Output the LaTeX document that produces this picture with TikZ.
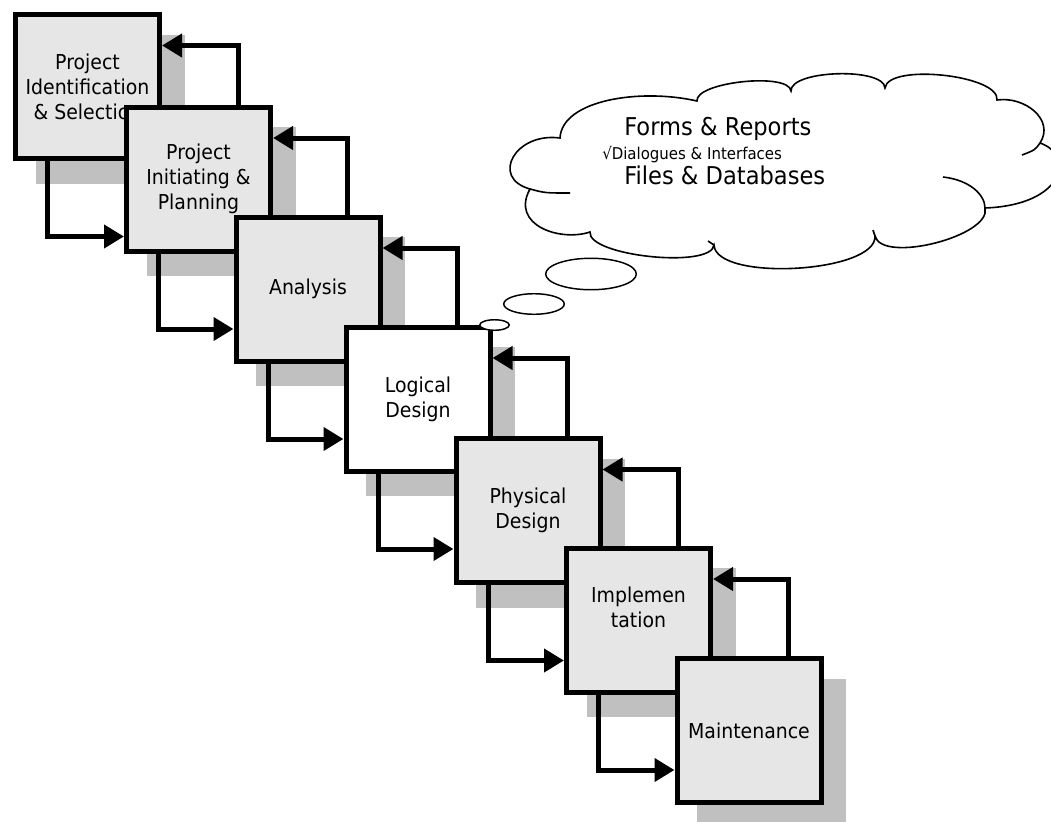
\documentclass[tikz,border=0pt]{standalone}
\usepackage{fontspec}
\setmainfont{DejaVu Sans}[FakeStretch=0.92]
\usetikzlibrary{calc,arrows.meta,shadows,shapes.geometric}
\definecolor{boxgray}{RGB}{230,230,230}
\definecolor{shadegray}{RGB}{192,192,192}
\tikzset{
  phase/.style={draw,line width=3.75pt,fill=boxgray,minimum width=108pt,minimum height=108pt,inner sep=0pt,align=center,
    font=\fontsize{15.4}{18.75}\selectfont,
    drop shadow={shadow xshift=16.5pt,shadow yshift=-16.5pt,shadow scale=1.035,fill=shadegray,opacity=1}},
  link/.style={->,line width=3.75pt},
  cloudline/.style={line width=1.2pt},
  puff/.style={ellipse,draw,line width=1.1pt,fill=white,inner sep=0pt},
  note/.style={anchor=base west,inner sep=0pt,font=\fontsize{18.4}{22}\selectfont}
}
\begin{document}
\begin{tikzpicture}[x=0.75pt,y=-0.75pt,>={Triangle[length=15pt,width=17pt]}]
                \useasboundingbox (0,0) rectangle (1051,822);
                \node[phase] (p1) at (87.5,86.5) {Project\\Identification\\\& Selection};
                \node[phase] (p2) at (198.5,179) {Project\\Initiating \&\\Planning};
                \node[phase] (p3) at (308,289) {Analysis};
                \node[phase,fill=white] (p4) at (418,399) {Logical\\Design};
                \node[phase] (p5) at (528,510.5) {Physical\\Design};
                \node[phase] (p6) at (638.5,620) {Implemen\\tation\\\mbox{}};
                \node[phase] (p7) at (749,730.5) {Maintenance};
                \foreach \i in {1,...,6}
                {
                \pgfmathtruncatemacro{\j}{\i+1}
                \draw[link] ([xshift=-26pt]p\j.north east) |- ($(p\i.north east)+(0,33.5)$);
                \draw[link] ([xshift=26pt]p\i.south west) |- ($(p\i.south -| p\j.west)+(0,75.5)$);
                }
                \draw[cloudline,fill=white] (560,138) .. controls (562,100) and (640,88) .. (697,101)
                    .. controls (695,82) and (789,72) .. (791,91)
                    .. controls (790,70) and (884,67) .. (885,88)
                    .. controls (888,63) and (1000,75) .. (997,100)
                    .. controls (1025,96) and (1055,120) .. (1040,143)
                    .. controls (1075,155) and (1065,205) .. (985,208)
                    .. controls (992,236) and (882,264) .. (875,236)
                    .. controls (877,273) and (716,282) .. (714,245)
                    .. controls (711.5,269) and (587.5,256) .. (590,232)
                    .. controls (560,242) and (510,225) .. (530,189)
                    .. controls (490,178) and (515,132) .. (560,138) -- cycle;
                \draw[cloudline] (943,177) .. controls (970,180) and (985,195) .. (985,208);
                \draw[cloudline] (1040,143) .. controls (1035,150) .. (1022,155);
                \draw[cloudline] (530,189) .. controls (545,193) .. (570,193);
                \draw[cloudline] (875,236) -- (873,230);
                \draw[cloudline] (714,245) -- (708,241);
                \node[note] (forms) at (624,135) {Forms \& Reports};
                \node[note,font=\fontsize{12.2}{14}\selectfont] (dialogues) at (602,159) {√Dialogues \& Interfaces};
                \node[note] (files) at (624,184) {Files \& Databases};
                \node[puff,minimum width=68pt,minimum height=23.6pt] (puff1) at (591,274) {};
                \node[puff,minimum width=45.4pt,minimum height=15.4pt] (puff2) at (534,304) {};
                \node[puff,minimum width=22.1pt,minimum height=7.9pt] (puff3) at (494.5,325) {};
            \end{tikzpicture}
\end{document}
